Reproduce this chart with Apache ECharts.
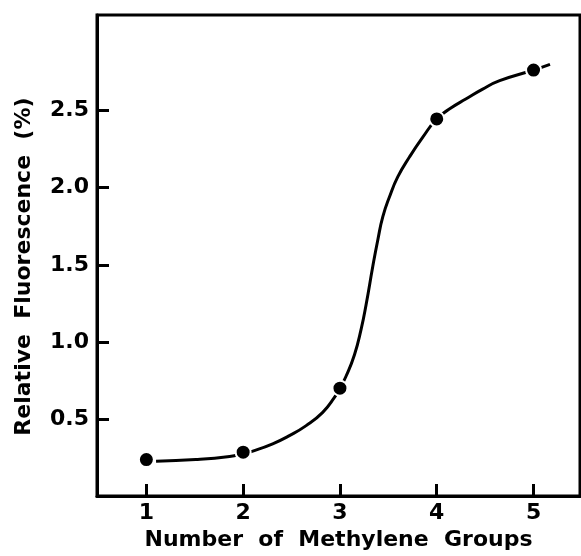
<!DOCTYPE html>
<html>
<head>
<meta charset="utf-8">
<script src="https://cdn.jsdelivr.net/npm/echarts@6/dist/echarts.min.js"></script>
<style>
  html, body { margin: 0; padding: 0; background: #fff; }
  #chart { width: 581px; height: 556px; }
</style>
</head>
<body>
<div id="chart"></div>
<script>
  // measured points
  var groups = [1, 2, 3, 4, 5];
  var fluorescence = [0.237, 0.285, 0.70, 2.446, 2.763];

  // hand drawn fitted curve
  var curveX = [1.10, 1.51, 1.86, 2.00, 2.10, 2.305, 2.478, 2.651, 2.822, 2.943, 3.00, 3.064, 3.15, 3.219, 3.27, 3.339, 3.391, 3.443, 3.512, 3.597, 3.718, 3.856, 4.00, 4.15, 4.30, 4.47, 4.65, 5.00, 5.17];
  var curveY = [0.226, 0.237, 0.257, 0.275, 0.292, 0.339, 0.392, 0.457, 0.543, 0.640, 0.70, 0.779, 0.917, 1.083, 1.241, 1.489, 1.661, 1.812, 1.941, 2.07, 2.199, 2.328, 2.446, 2.518, 2.575, 2.638, 2.694, 2.763, 2.80];

  var xTicks = [1, 2, 3, 4, 5];
  var yTicks = [0.5, 1.0, 1.5, 2.0, 2.5];

  var chart = echarts.init(document.getElementById('chart'));

  var curve = [];
  for (var i = 0; i < curveX.length; i++) {
    curve.push([curveX[i], curveY[i]]);
  }
  var points = [];
  for (var j = 0; j < groups.length; j++) {
    points.push([groups[j], fluorescence[j]]);
  }

  var labelFont = {
    color: '#000',
    fontFamily: 'DejaVu Sans',
    fontSize: 22,
    fontWeight: 'bold'
  };

  var option = {
    backgroundColor: '#ffffff',
    animation: false,
    grid: {
      left: 97,
      right: 1,
      top: 15,
      bottom: 57,
      show: true,
      borderColor: '#000',
      borderWidth: 3
    },
    xAxis: {
      type: 'value',
      min: 0.49,
      max: 5.48,
      name: 'Number  of  Methylene  Groups',
      nameLocation: 'middle',
      nameGap: 30,
      nameTextStyle: labelFont,
      axisLine: { lineStyle: { color: '#000', width: 3 } },
      axisTick: {
        inside: true,
        length: 12,
        customValues: xTicks,
        lineStyle: { color: '#000', width: 3 }
      },
      axisLabel: Object.assign({ margin: 6, customValues: xTicks }, labelFont),
      splitLine: { show: false }
    },
    yAxis: {
      type: 'value',
      min: 0,
      max: 3.12,
      name: 'Relative  Fluorescence  (%)',
      nameLocation: 'middle',
      nameGap: 62,
      nameTextStyle: Object.assign({ padding: [0, 22, 0, 0] }, labelFont),
      axisLine: { lineStyle: { color: '#000', width: 3 } },
      axisTick: {
        inside: true,
        length: 12,
        customValues: yTicks,
        lineStyle: { color: '#000', width: 3 }
      },
      axisLabel: Object.assign({
        margin: 8,
        customValues: yTicks,
        formatter: function (v) { return v.toFixed(1); }
      }, labelFont),
      splitLine: { show: false }
    },
    series: [
      {
        name: 'curve',
        type: 'line',
        data: curve,
        smooth: 0.5,
        showSymbol: false,
        lineStyle: { color: '#000', width: 3 },
        z: 2
      },
      {
        name: 'measured',
        type: 'scatter',
        data: points,
        symbol: 'circle',
        symbolSize: 15,
        itemStyle: { color: '#000', opacity: 1, borderColor: '#fff', borderWidth: 2 },
        z: 3
      }
    ]
  };

  chart.setOption(option);
</script>
</body>
</html>
